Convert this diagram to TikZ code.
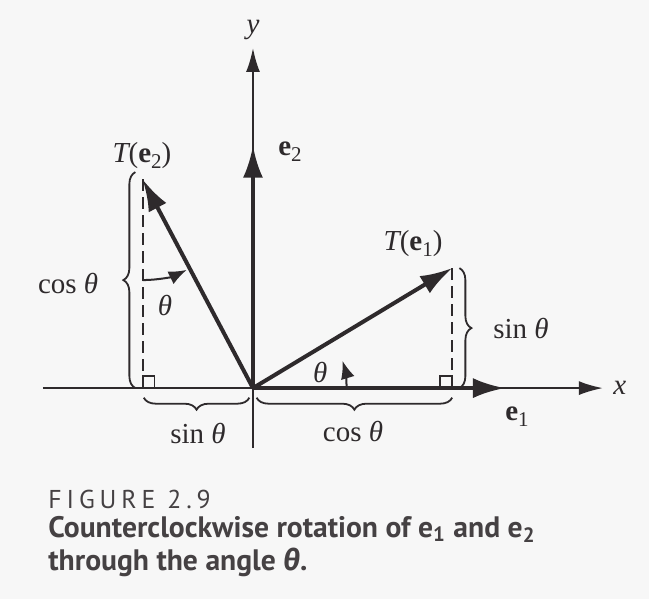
\documentclass[tikz,border=0pt]{standalone}
\usepackage{fontspec}
\setmainfont{Liberation Serif}
\usetikzlibrary{arrows.meta,decorations.pathreplacing,positioning,calc}
\newfontfamily\capfont{PT Sans}
\newfontfamily\capgreek{Fira Sans}
\definecolor{R29ink}{HTML}{2E2A2C}
\definecolor{R29cap}{HTML}{454143}
\newcommand{\Rth}{{\itshape θ}}
\newcommand{\Rvec}[1]{\textbf{e}\raisebox{-0.45ex}{\fontsize{10.5}{11}\selectfont #1}}

\tikzset{R29ax/.style={draw=R29ink,line width=1pt,-{Latex[length=12pt,width=7pt]}},
         R29vec/.style={draw=R29ink,line width=2pt,-{Latex[length=16pt,width=10pt]}},
         R29dash/.style={draw=R29ink,line width=1pt,dash pattern=on 6pt off 3pt},
         R29br/.style={draw=R29ink,line width=0.9pt,decorate,decoration={brace,amplitude=6pt}},
         R29arc/.style={draw=R29ink,line width=1pt,-{Latex[length=9pt,width=7pt]}},
         R29lab/.style={text=R29ink,font=\fontsize{14.5}{17}\selectfont,inner sep=1pt},
         R29cap/.style={text=R29cap,anchor=base west,inner sep=0pt}}

\begin{document}
\begin{tikzpicture}[x=120pt,y=120pt]
    \fill[black!3] (-1.054,-0.879) rectangle (1.65,1.617);
    \useasboundingbox (-1.054,-0.879) rectangle (1.65,1.617);
    % axes and unit vectors
    \coordinate (O) at (0,0);
    \coordinate (xl) at (-0.875,0); \coordinate (xr) at (1.458,0);
    \coordinate (yd) at (0,-0.25);  \coordinate (yu) at (0,1.417);
    \coordinate (e1) at (1.05,0);   \coordinate (e2) at (0,1.01);
    \coordinate (Te1) at (0.83,0.5); \coordinate (Te2) at (-0.46,0.87);
    \coordinate (f1) at (0.83,0);    \coordinate (f2) at (-0.46,0);
    \draw[R29ax] (xl)--(xr); \draw[R29ax] (yd)--(yu);
    \foreach \t in {e1,e2,Te1,Te2} {\draw[R29vec] (O)--(\t);}
    \node[R29lab,right=4pt of xr] (lx) {\itshape x};
    \node[R29lab,above=3pt of yu] (ly) {\itshape y};
    \node[R29lab] (le1) at (1.1,-0.12) {\Rvec{1}};
    \node[R29lab] (le2) at (0.154,0.983) {\Rvec{2}};
    \node[R29lab] (lTe1) at (0.667,0.604) {{\itshape T}(\Rvec{1})};
    \node[R29lab] (lTe2) at (-0.4625,0.971) {{\itshape T}(\Rvec{2})};
    % projections
    \draw[R29dash] (Te1)--(f1); \draw[R29dash] (Te2)--(f2);
    \draw[R29ink,line width=0.9pt] ($(f1)+(-0.05,0)$) rectangle ($(f1)+(0,0.05)$);
    \draw[R29ink,line width=0.9pt] (f2) rectangle ($(f2)+(0.05,0.05)$);
    \draw[R29br] (-0.49,0)--(-0.49,0.9);
    \draw[R29br] (0.86,0.5)--(0.86,0);
    \draw[R29br] (-0.015,-0.04)--(-0.455,-0.04);
    \draw[R29br] (0.83,-0.04)--(0.015,-0.04);
    \node[R29lab] (lc2) at (-0.77,0.4375) {cos \Rth};
    \node[R29lab] (ls1) at (1.117,0.25) {sin \Rth};
    \node[R29lab] (ls2) at (-0.229,-0.1875) {sin \Rth};
    \node[R29lab] (lc1) at (0.417,-0.179) {cos \Rth};
    % angles
    \draw[R29arc] (0.39,0) arc[start angle=0,end angle=17,radius=0.39];
    \draw[R29arc] ($(Te2)+(0,-0.42)$) arc[start angle=-90,end angle=-64,radius=0.42];
    \node[R29lab] (th1) at (0.28,0.067) {\Rth};
    \node[R29lab] (th2) at (-0.367,0.346) {\Rth};
    % caption
    \node[R29cap,font=\capfont\fontsize{12.9}{15}\selectfont\addfontfeature{LetterSpace=19}] (cap1) at (-0.854,-0.5) {FIGURE 2.9};
    \node[R29cap,font=\capfont\bfseries\fontsize{14.8}{17}\selectfont] (cap2) at (-0.854,-0.621)
      {Counterclockwise rotation of e\textsubscript{1} and e\textsubscript{2}};
    \node[R29cap,font=\capfont\bfseries\fontsize{14.8}{17}\selectfont] (cap3) at (-0.854,-0.758)
      {through the angle {\capgreek\itshape θ}.};
  \end{tikzpicture}
\end{document}
